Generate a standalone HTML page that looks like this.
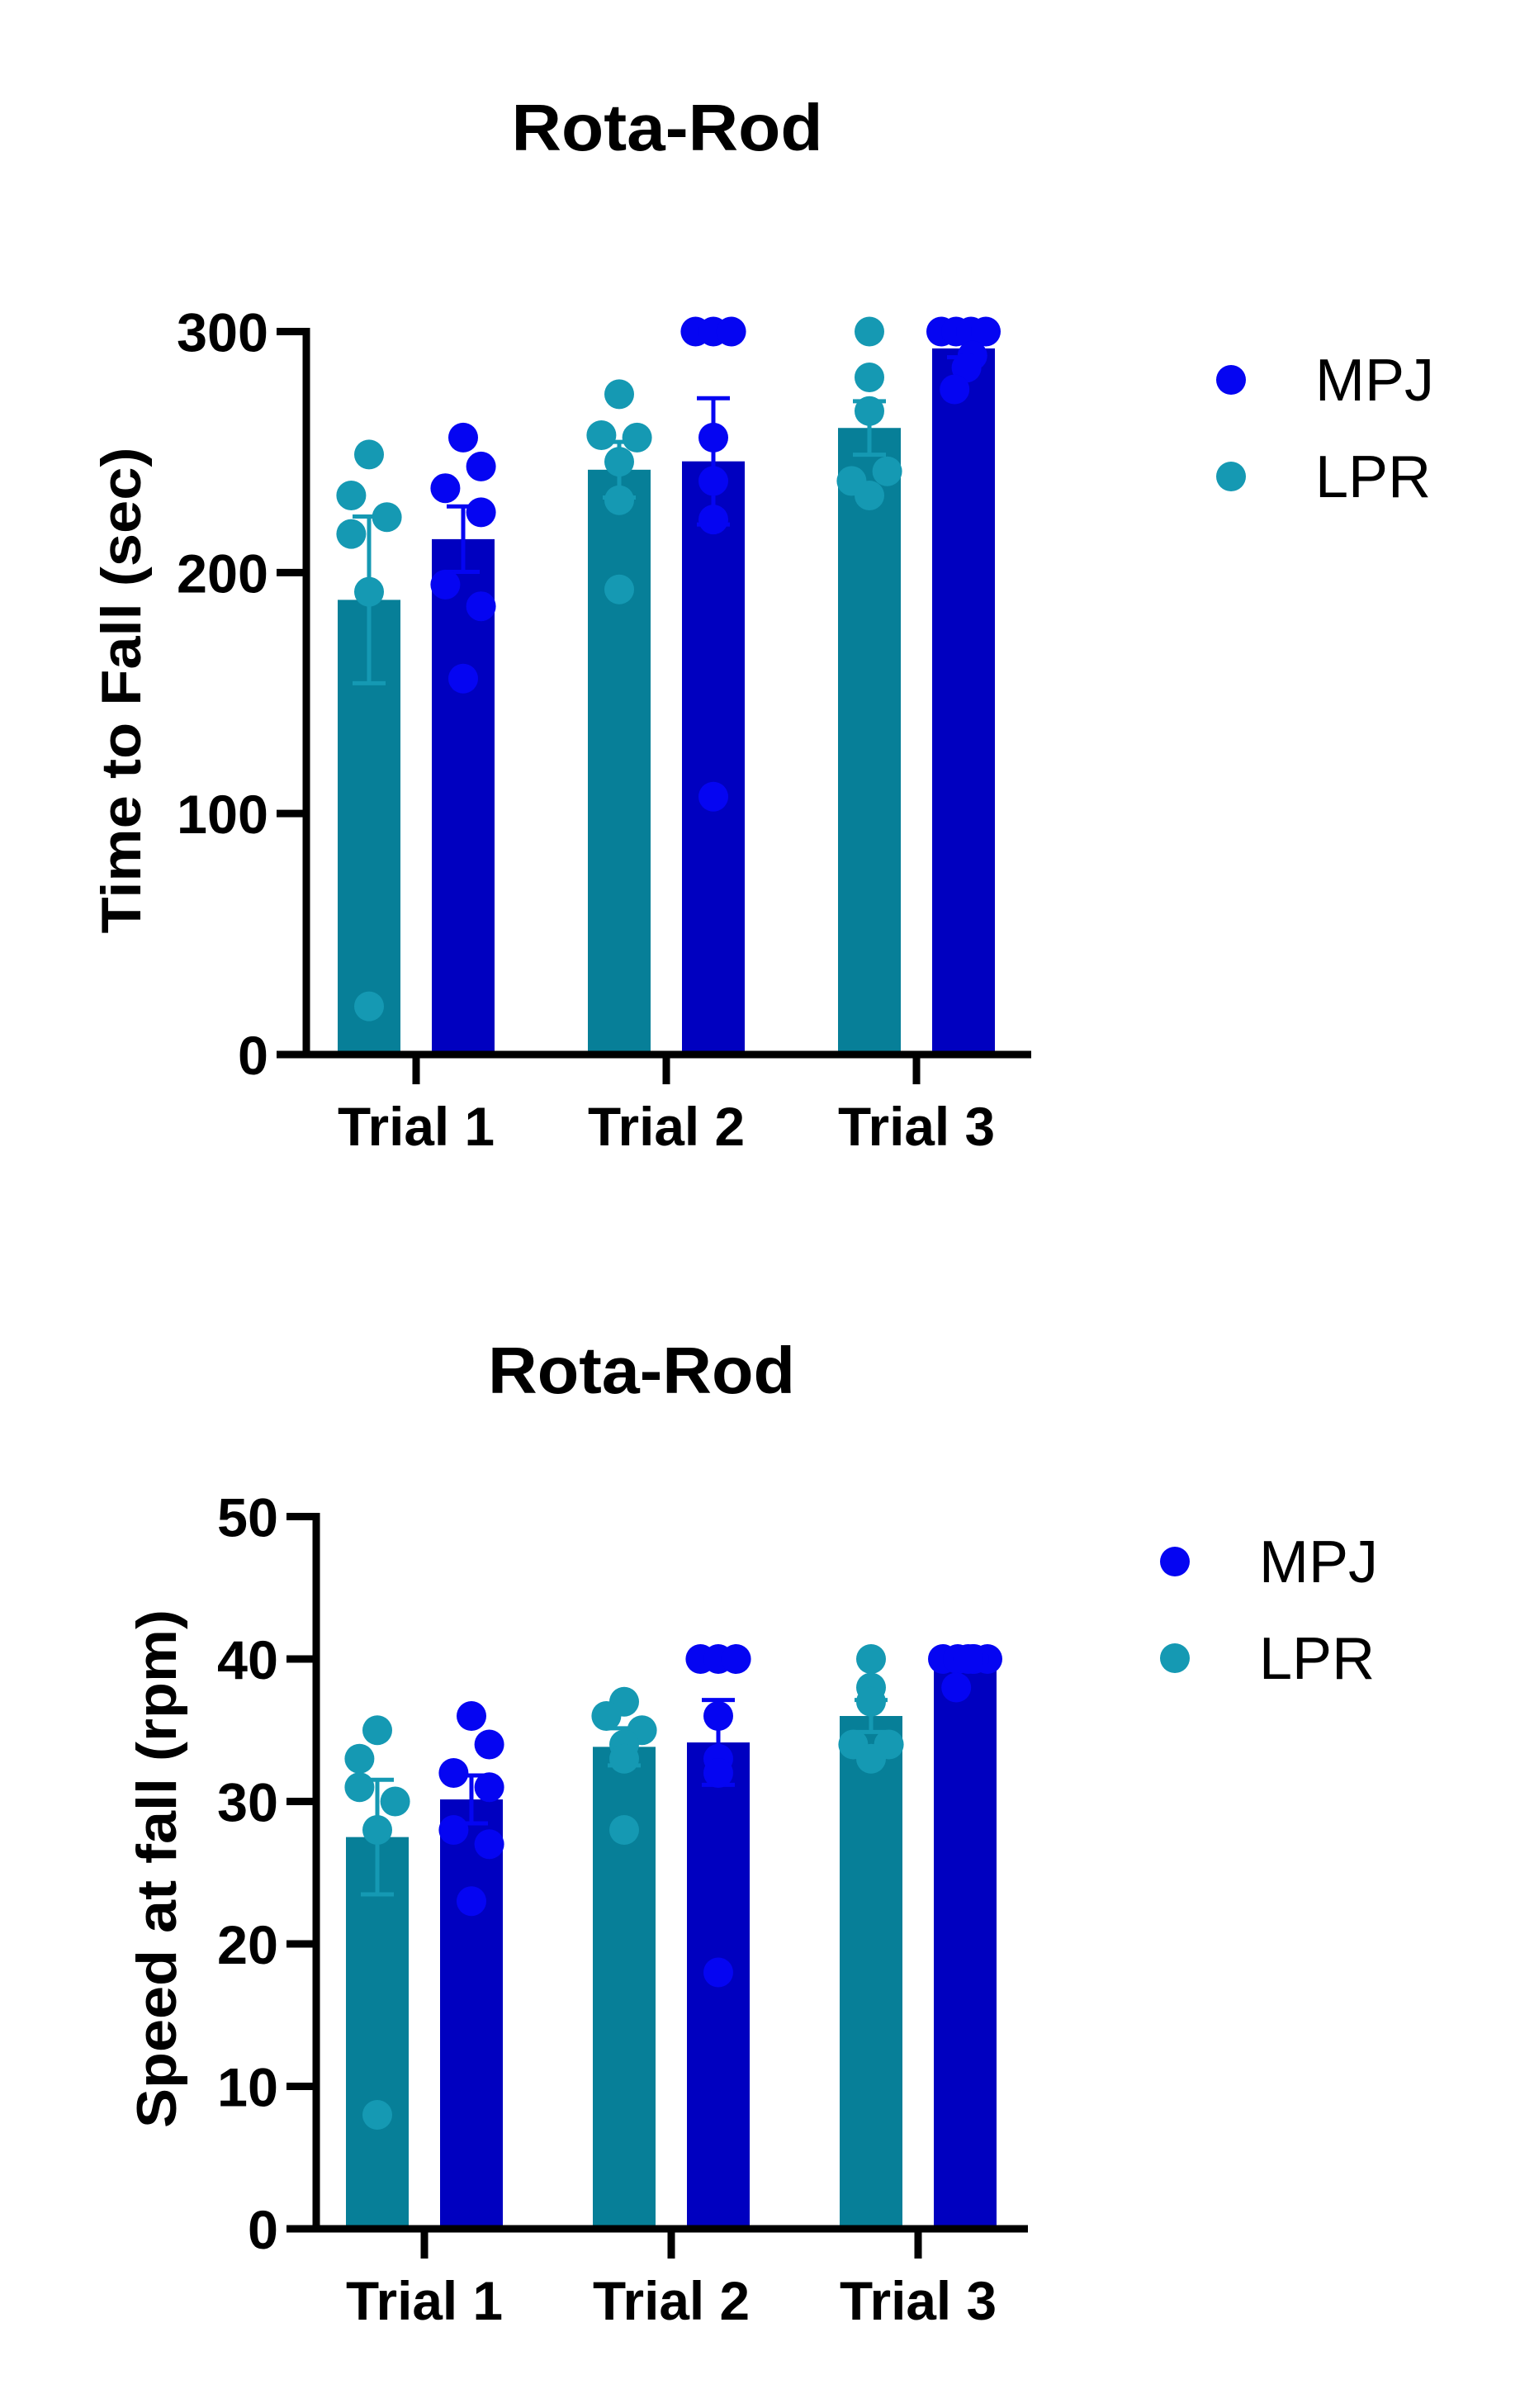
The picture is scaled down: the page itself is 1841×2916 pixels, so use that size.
<!DOCTYPE html>
<html><head><meta charset="utf-8"><style>
html,body{margin:0;padding:0;background:#fff;}
svg{display:block;}
text{font-family:"Liberation Sans",Arial,sans-serif;}
</style></head><body>
<svg id="fig" width="1841" height="2916" viewBox="0 0 1841 2916" xmlns="http://www.w3.org/2000/svg"></svg>
<script>
// ---- shared data ----
const categories = ["Trial 1","Trial 2","Trial 3"];
const seriesNames = ["LPR","MPJ"];
// Chart 1: time to fall (sec)
const timeTicks = [0,100,200,300];
const timeLPR = [[249,232,216,223,192,20],[274,257,256,246,230,193],[300,281,267,242,238,232]];
const timeMPJ = [[256,244,235,225,195,186,156],[300,300,300,256,238,222,107],[300,300,300,300,290,285,276]];
// Chart 2: speed at fall (rpm)
const speedTicks = [0,10,20,30,40,50];
const speedLPR = [[35,33,31,30,28,8],[37,36,35,34,33,28],[40,38,37,34,34,33]];
const speedMPJ = [[36,34,32,31,28,27,23],[40,40,40,36,33,32,18],[40,40,40,40,40,40,38]];

const NS="http://www.w3.org/2000/svg";
const svg=document.getElementById('fig');
function mk(tag,attrs,parent){const e=document.createElementNS(NS,tag);for(const k in attrs)e.setAttribute(k,attrs[k]);(parent||svg).appendChild(e);return e;}
function mean(a){return a.reduce((s,v)=>s+v,0)/a.length;}
function sem(a){const m=mean(a);const v=a.reduce((s,x)=>s+(x-m)*(x-m),0)/(a.length-1);return Math.sqrt(v/a.length);}

const COL={LPR:{bar:"#077f98",dot:"#1599b3"},MPJ:{bar:"#0000c0",dot:"#0505f2"}};
// jitter patterns (in dot-radius units), layout only
const jitterLPR=[[0,-0.6,-0.6,0.6,0,0],[0,-0.6,0.6,0,0,0],[0,0,0,0.6,-0.6,0]];
const jitterMPJ=[[0,0.6,-0.6,0.6,-0.6,0.6,0],[-0.6,0,0.6,0,0,0,0],[-0.75,-0.25,0.25,0.75,0.3,0.1,-0.3]];

function drawChart(cfg){
  const g=mk('g',{});
  
  
  const yScale=v=>cfg.y0-(v-cfg.ticks[0])/(cfg.ticks[cfg.ticks.length-1]-cfg.ticks[0])*(cfg.y0-cfg.yTop);
  const xScale=i=>cfg.x0+i*cfg.step;
  const t=mk('text',{x:cfg.titleX,y:cfg.titleY,'text-anchor':'middle','font-size':80,'font-weight':'bold',fill:'#000',textLength:cfg.titleLen,lengthAdjust:'spacingAndGlyphs'},g);
  t.textContent="Rota-Rod";
  
  
  const sets=[{name:"LPR",data:cfg.lpr,off:-57,jit:jitterLPR},{name:"MPJ",data:cfg.mpj,off:57,jit:jitterMPJ}];
  categories.forEach((c,i)=>{
    sets.forEach(s=>{
      const vals=s.data[i];const m=mean(vals);const e=sem(vals);
      const cx=xScale(i)+s.off;
      const b=mk('rect',{x:cx-38,y:yScale(m),width:76,height:cfg.y0-yScale(m),fill:COL[s.name].bar},g);
      
      
      const eb=mk('g',{stroke:COL[s.name].dot,'stroke-width':5},g);
      
      
      mk('line',{x1:cx,x2:cx,y1:yScale(m+e),y2:yScale(m-e)},eb);
      mk('line',{x1:cx-20,x2:cx+20,y1:yScale(m+e),y2:yScale(m+e)},eb);
      mk('line',{x1:cx-20,x2:cx+20,y1:yScale(m-e),y2:yScale(m-e)},eb);
      vals.forEach((v,k)=>{
        const d=mk('circle',{cx:cx+(s.jit[i][k]||0)*36,cy:yScale(v),r:18,fill:COL[s.name].dot},g);
        
        
      });
    });
  });
  const ya=mk('line',{x1:cfg.axisX,x2:cfg.axisX,y1:cfg.yTop-4.5,y2:cfg.y0+4.5,stroke:'#000','stroke-width':9},g);
  
  
  const xa=mk('line',{x1:cfg.axisX-36,x2:cfg.xEnd,y1:cfg.y0,y2:cfg.y0,stroke:'#000','stroke-width':9},g);
  
  
  cfg.ticks.forEach(v=>{
    const y=yScale(v);
    mk('line',{x1:cfg.axisX-36,x2:cfg.axisX,y1:y,y2:y,stroke:'#000','stroke-width':9},g);
    const tl=mk('text',{x:cfg.axisX-46,y:y+24,'text-anchor':'end','font-size':66,'font-weight':'bold',fill:'#000',textLength:String(v).length*37,lengthAdjust:'spacingAndGlyphs'},g);
    tl.textContent=v;
    
    
  });
  categories.forEach((c,i)=>{
    const x=xScale(i);
    mk('line',{x1:x,x2:x,y1:cfg.y0,y2:cfg.y0+36,stroke:'#000','stroke-width':9},g);
    const cl=mk('text',{x:x,y:cfg.y0+110,'text-anchor':'middle','font-size':66,'font-weight':'bold',fill:'#000',textLength:190,lengthAdjust:'spacingAndGlyphs'},g);
    cl.textContent=c;
    
    
  });
  const yt=mk('text',{x:0,y:0,'text-anchor':'middle','font-size':68,'font-weight':'bold',fill:'#000',transform:`translate(${cfg.yTitleX},${cfg.yTitleY}) rotate(-90)`,textLength:cfg.yTitleLen,lengthAdjust:'spacingAndGlyphs'},g);
  yt.textContent=cfg.yTitle;
  
  
  [["MPJ",0],["LPR",1]].forEach(([n,k])=>{
    const le=mk('g',{},g);
    
    
    const cy=cfg.legY+k*117;
    mk('circle',{cx:cfg.legX,cy:cy,r:18,fill:COL[n].dot},le);
    const lt=mk('text',{x:cfg.legX+102,y:cy+25,'font-size':72,fill:'#000'},le);
    lt.textContent=n;
  });
}

drawChart({name:'chart-time-to-fall',ticks:timeTicks,lpr:timeLPR,mpj:timeMPJ,
  y0:1277,yTop:401.5,axisX:371,xEnd:1249,x0:504,step:303,
  titleX:808,titleY:182,titleLen:377,yTitle:"Time to Fall (sec)",yTitleX:170,yTitleY:836,yTitleLen:589,
  legX:1491,legY:460});
drawChart({name:'chart-speed-at-fall',ticks:speedTicks,lpr:speedLPR,mpj:speedMPJ,
  y0:2699,yTop:1836.5,axisX:383,xEnd:1245,x0:514,step:299,
  titleX:777,titleY:1687,titleLen:372,yTitle:"Speed at fall (rpm)",yTitleX:213,yTitleY:2263,yTitleLen:628,
  legX:1423,legY:1891});
</script>
</body></html>
